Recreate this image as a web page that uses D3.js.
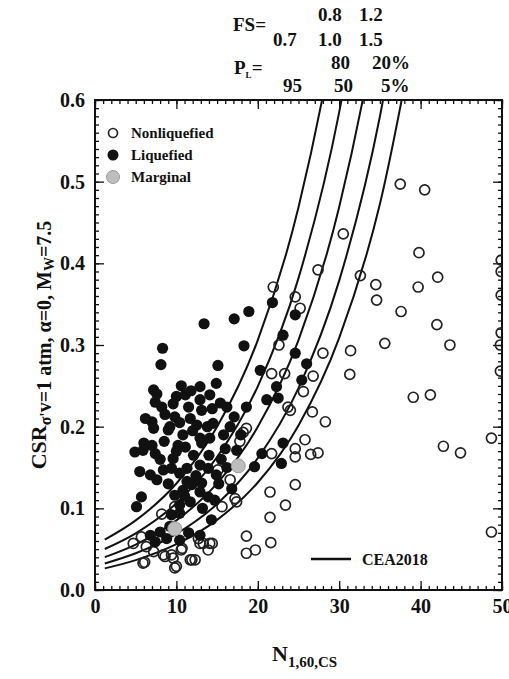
<!DOCTYPE html>
<html>
<head>
<meta charset="utf-8">
<script src="https://cdn.jsdelivr.net/npm/d3@7"></script>
<style>
body { margin: 0; background: #fff; }
text { font-family: "Liberation Serif", "Times New Roman", serif; font-weight: bold; fill: #111; }
</style>
</head>
<body>
<svg id="chart" width="509" height="679"></svg>
<script>
// case histories: [N1,60,CS, CSR]
var nonliquefied = [
	[37.5,0.497],[40.5,0.49],[30.5,0.436],[27.4,0.392],[32.6,0.385],[39.8,0.413],[42.1,0.383],
	[39.7,0.371],[34.5,0.374],[34.6,0.355],[37.6,0.341],[42.0,0.325],[49.9,0.404],[49.9,0.39],
	[49.9,0.361],[49.9,0.315],[49.8,0.30],[49.8,0.268],[24.6,0.359],[25.2,0.345],[35.6,0.302],
	[43.6,0.30],[31.4,0.293],[31.3,0.264],[28.0,0.29],[26.8,0.262],[25.6,0.243],[39.1,0.236],
	[41.2,0.239],[26.7,0.218],[28.3,0.206],[48.7,0.186],[42.8,0.176],[44.9,0.168],[25.8,0.184],
	[24.6,0.173],[24.6,0.163],[26.5,0.166],[27.4,0.168],[24.6,0.129],[48.7,0.071],
	[21.9,0.371],[22.6,0.30],[21.7,0.265],[23.3,0.265],[23.7,0.224],[24.0,0.22],[18.6,0.198],
	[17.8,0.182],[18.2,0.193],[21.7,0.167],[21.5,0.12],[23.4,0.104],[21.5,0.089],[21.6,0.058],
	[18.6,0.066],[18.6,0.045],[19.7,0.049],[16.6,0.135],[15.1,0.147],[17.4,0.108],[15.6,0.102],
	[17.2,0.112],[14.1,0.057],[13.9,0.049],[14.4,0.057],[12.3,0.037],[13.3,0.057],[12.7,0.063],
	[12.9,0.057],[11.9,0.037],[11.7,0.037],[10.6,0.049],[10.7,0.051],[10.0,0.029],[9.8,0.027],
	[9.6,0.039],[9.4,0.043],[8.6,0.041],[8.4,0.043],[8.2,0.093],[9.8,0.102],[7.2,0.047],
	[6.3,0.053],[6.1,0.034],[5.9,0.033],[5.7,0.065],[4.7,0.057]
];
var liquefied = [
	[13.4,0.326],[8.3,0.296],[8.1,0.276],[17.1,0.332],[18.9,0.341],[21.8,0.352],[18.3,0.299],
	[15.1,0.275],[20.3,0.269],[24.6,0.337],[23.1,0.312],[24.6,0.29],[26.0,0.277],[25.4,0.257],
	[22.3,0.249],[21.1,0.233],[22.5,0.235],[18.6,0.224],[17.1,0.212],
	[7.2,0.245],[7.4,0.23],[8.2,0.224],[10.0,0.237],[11.1,0.239],[11.5,0.224],[12.9,0.249],
	[12.9,0.233],[9.8,0.212],[11.7,0.21],[7.0,0.206],[9.2,0.2],[12.5,0.202],[14.9,0.253],
	[14.1,0.239],[15.4,0.229],[16.2,0.224],[14.5,0.204],[13.1,0.22],[10.6,0.25],[9.0,0.196],
	[7.2,0.198],[7.6,0.24],[9.6,0.228],[11.8,0.244],[14.4,0.222],[16.6,0.2],[6.2,0.21],
	[8.6,0.215],[10.4,0.205],[12.0,0.195],[13.8,0.2],[15.8,0.19],
	[4.9,0.169],[5.9,0.171],[7.0,0.177],[7.4,0.167],[10.2,0.177],[11.1,0.175],[12.9,0.186],
	[12.1,0.165],[9.6,0.161],[5.5,0.145],[6.8,0.141],[7.6,0.135],[8.4,0.147],[9.4,0.149],
	[10.4,0.143],[11.3,0.149],[12.9,0.153],[11.3,0.133],[13.1,0.18],[14.1,0.186],[13.9,0.149],
	[14.9,0.141],[13.1,0.131],[16.0,0.173],[17.4,0.171],[19.6,0.151],[20.5,0.167],[23.1,0.18],
	[22.9,0.155],[15.5,0.16],[8.5,0.182],[10.8,0.19],[6.0,0.18],[8.0,0.16],[10.0,0.17],
	[12.4,0.14],[14.0,0.165],[16.2,0.15],[17.9,0.19],[9.0,0.13],[15.2,0.13],
	[5.7,0.114],[5.1,0.102],[9.8,0.116],[10.8,0.122],[11.9,0.129],[12.9,0.12],[10.4,0.104],
	[11.7,0.108],[9.4,0.092],[10.4,0.094],[13.9,0.114],[14.7,0.11],[16.8,0.124],[14.3,0.086],
	[12.9,0.067],[6.8,0.067],[7.4,0.059],[8.0,0.071],[8.8,0.063],[10.4,0.061],[11.5,0.07],
	[9.2,0.078],[11.0,0.115],[13.2,0.1]
];
var marginal = [[9.8,0.075],[17.6,0.152]];

// CEA2018 boundary curves, CSR read at these N values
var curveN = [1.2, 5, 10, 15, 20, 25, 30, 35, 40];
var curvePL95 = [0.0616, 0.0852, 0.1304, 0.1998, 0.306, 0.4686, 0.718, 1.099, 1.683];
var curvePL80 = [0.0502, 0.0694, 0.1063, 0.1628, 0.2494, 0.3819, 0.5852, 0.8957, 1.372];
var curvePL50 = [0.0402, 0.0556, 0.0852, 0.1305, 0.1998, 0.306, 0.4689, 0.7177, 1.099];
var curvePL20 = [0.0325, 0.0450, 0.0688, 0.1054, 0.1614, 0.2472, 0.3788, 0.5798, 0.888];
var curvePL5 = [0.0265, 0.0366, 0.0561, 0.0859, 0.1316, 0.2015, 0.3087, 0.4726, 0.7237];
var curves = [curvePL95, curvePL80, curvePL50, curvePL20, curvePL5];

var xTicks = [0, 10, 20, 30, 40, 50];
var yTicks = [0, 0.1, 0.2, 0.3, 0.4, 0.5, 0.6];
var legendLabels = ["Nonliquefied", "Liquefied", "Marginal"];

var svg = d3.select("#chart");
var pLeft = 95, pRight = 502, pTop = 100, pBottom = 590;

var x = d3.scaleLinear().domain([0, 50]).range([pLeft, pRight]);
var y = d3.scaleLinear().domain([0, 0.6]).range([pBottom, pTop]);

svg.append("defs").append("clipPath")
	.attr("id", "plotClip")
	.append("rect")
	.attr("x", pLeft).attr("y", pTop)
	.attr("width", pRight - pLeft).attr("height", pBottom - pTop);

// ticks, all pointing inward
function addAxis(axis, tx, ty, labels) {
	var g = svg.append("g")
		.attr("transform", "translate(" + tx + "," + ty + ")")
		.call(axis);
	g.select(".domain").remove();
	g.selectAll("line").attr("stroke", "#111").attr("stroke-width", 1.3);
	if (!labels) g.selectAll("text").remove();
	return g;
}
var xMinor = d3.range(0, 51, 1), yMinor = d3.range(0, 0.6001, 0.01);

addAxis(d3.axisBottom(x).tickValues(xMinor).tickSize(-4).tickFormat(""), 0, pBottom, false);
addAxis(d3.axisTop(x).tickValues(xMinor).tickSize(-4).tickFormat(""), 0, pTop, false);
addAxis(d3.axisLeft(y).tickValues(yMinor).tickSize(-4).tickFormat(""), pLeft, 0, false);
addAxis(d3.axisRight(y).tickValues(yMinor).tickSize(-4).tickFormat(""), pRight, 0, false);
addAxis(d3.axisTop(x).tickValues(xTicks).tickSize(-9).tickFormat(""), 0, pTop, false);
addAxis(d3.axisRight(y).tickValues(yTicks).tickSize(-9).tickFormat(""), pRight, 0, false);

var xAxis = addAxis(d3.axisBottom(x).tickValues(xTicks).tickSize(-9).tickPadding(9).tickFormat(d3.format("d")), 0, pBottom, true);
xAxis.selectAll("text")
	.attr("font-family", "Liberation Serif").attr("font-weight", "bold")
	.attr("font-size", "20px").attr("fill", "#111");
var yAxis = addAxis(d3.axisLeft(y).tickValues(yTicks).tickSize(-9).tickPadding(10).tickFormat(d3.format(".1f")), pLeft, 0, true);
yAxis.selectAll("text")
	.attr("font-family", "Liberation Serif").attr("font-weight", "bold")
	.attr("font-size", "20px").attr("fill", "#111");

svg.append("rect")
	.attr("x", pLeft).attr("y", pTop)
	.attr("width", pRight - pLeft).attr("height", pBottom - pTop)
	.attr("fill", "none")
	.attr("stroke", "#111")
	.attr("stroke-width", 2);

// boundary curves
var line = d3.line()
	.x(function(d) { return x(d[0]); })
	.y(function(d) { return y(d[1]); })
	.curve(d3.curveMonotoneX);

svg.append("g")
	.attr("clip-path", "url(#plotClip)")
	.selectAll("path")
	.data(curves)
	.enter().append("path")
	.attr("d", function(c) { return line(c.map(function(v, i) { return [curveN[i], v]; })); })
	.attr("fill", "none")
	.attr("stroke", "#111")
	.attr("stroke-width", 2);

// points
var pts = svg.append("g").attr("clip-path", "url(#plotClip)");
pts.selectAll(".nl")
	.data(nonliquefied)
	.enter().append("circle")
	.attr("class", "nl")
	.attr("cx", function(d) { return x(d[0]); })
	.attr("cy", function(d) { return y(d[1]); })
	.attr("r", 5)
	.attr("fill", "none")
	.attr("stroke", "#222")
	.attr("stroke-width", 1.7);
pts.selectAll(".lq")
	.data(liquefied)
	.enter().append("circle")
	.attr("class", "lq")
	.attr("cx", function(d) { return x(d[0]); })
	.attr("cy", function(d) { return y(d[1]); })
	.attr("r", 5.6)
	.attr("fill", "#111");
pts.selectAll(".mg")
	.data(marginal)
	.enter().append("circle")
	.attr("class", "mg")
	.attr("cx", function(d) { return x(d[0]); })
	.attr("cy", function(d) { return y(d[1]); })
	.attr("r", 7)
	.attr("fill", "#bdbdbd")
	.attr("stroke", "#999")
	.attr("stroke-width", 1);

// legend
var legY = [133, 155, 177];
var leg = svg.append("g");
leg.append("circle").attr("cx", 113).attr("cy", legY[0]).attr("r", 4.5)
	.attr("fill", "none").attr("stroke", "#222").attr("stroke-width", 1.7);
leg.append("circle").attr("cx", 113).attr("cy", legY[1]).attr("r", 5.5).attr("fill", "#111");
leg.append("circle").attr("cx", 113).attr("cy", legY[2]).attr("r", 6.5)
	.attr("fill", "#bdbdbd").attr("stroke", "#999");
leg.selectAll("text")
	.data(legendLabels)
	.enter().append("text")
	.attr("x", 131)
	.attr("y", function(d, i) { return legY[i] + 5; })
	.attr("font-size", "15px")
	.text(function(d) { return d; });

svg.append("line")
	.attr("x1", 311).attr("x2", 351)
	.attr("y1", 559).attr("y2", 559)
	.attr("stroke", "#111").attr("stroke-width", 2.5);
svg.append("text")
	.attr("x", 362).attr("y", 565)
	.attr("font-size", "16px")
	.text("CEA2018");

// FS / PL labels above the plot
var topLabels = [
	{t: "FS=", x: 233, y: 31},
	{t: "0.8", x: 318, y: 21}, {t: "1.2", x: 359, y: 21},
	{t: "0.7", x: 273, y: 46}, {t: "1.0", x: 318, y: 46}, {t: "1.5", x: 359, y: 46},
	{t: "80", x: 331, y: 69}, {t: "20%", x: 372, y: 69},
	{t: "95", x: 283, y: 92}, {t: "50", x: 334, y: 92}, {t: "5%", x: 381, y: 92}
];
svg.selectAll(".toplab")
	.data(topLabels)
	.enter().append("text")
	.attr("class", "toplab")
	.attr("x", function(d) { return d.x; })
	.attr("y", function(d) { return d.y; })
	.attr("font-size", "19px")
	.text(function(d) { return d.t; });
var pl = svg.append("text").attr("x", 234).attr("y", 74).attr("font-size", "19px");
pl.append("tspan").text("P");
pl.append("tspan").attr("font-size", "9px").attr("dy", 4).text("L");
pl.append("tspan").attr("dy", -4).text("=");

// axis titles
var xt = svg.append("text")
	.attr("x", 272).attr("y", 661)
	.attr("font-size", "22px");
xt.append("tspan").text("N");
xt.append("tspan").attr("font-size", "15px").attr("dy", 6).text("1,60,CS");

var yt = svg.append("text")
	.attr("transform", "translate(46,345)rotate(-90)")
	.attr("text-anchor", "middle")
	.attr("font-size", "22px");
yt.append("tspan").text("CSR");
yt.append("tspan").attr("font-size", "16px").attr("dy", 5).text("σ'");
yt.append("tspan").attr("font-size", "20px").text("v=1 atm, α=0, M");
yt.append("tspan").attr("font-size", "14px").attr("dy", 3).text("W");
yt.append("tspan").attr("font-size", "20px").attr("dy", -3).text("=7.5");
</script>
</body>
</html>
